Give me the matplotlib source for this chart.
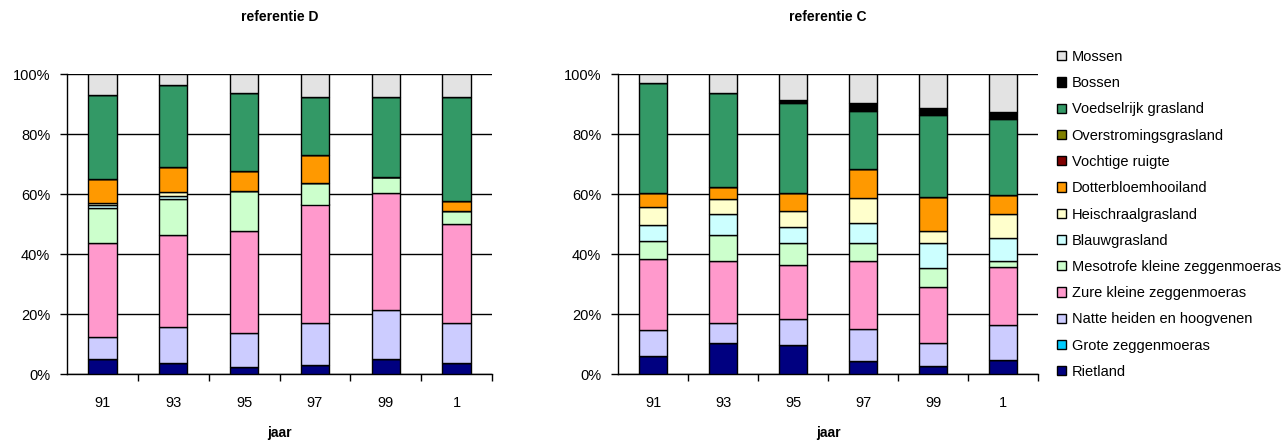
import matplotlib
matplotlib.use("Agg")
import matplotlib.pyplot as plt
from matplotlib.patches import Rectangle
import numpy as np

plt.rcParams['font.family'] = ['Liberation Sans', 'DejaVu Sans']

# categorieen en jaren
jaren = ["91", "93", "95", "97", "99", "1"]
typen = ["Rietland", "Grote zeggenmoeras", "Natte heiden en hoogvenen",
         "Zure kleine zeggenmoeras", "Mesotrofe kleine zeggenmoeras",
         "Blauwgrasland", "Heischraalgrasland", "Dotterbloemhooiland",
         "Vochtige ruigte", "Overstromingsgrasland", "Voedselrijk grasland",
         "Bossen", "Mossen"]
kleuren = ["#000080", "#00CCFF", "#CCCCFF", "#FF99CC", "#CCFFCC",
           "#CCFFFF", "#FFFFCC", "#FF9900", "#800000", "#808000",
           "#339966", "#000000", "#E3E3E3"]

# aandelen (%) per type, per jaar - referentie D
ref_d = [
    [5.1, 3.7, 2.3, 3.1, 5.1, 3.8],        # Rietland
    [0, 0, 0, 0, 0, 0],                    # Grote zeggenmoeras
    [7.2, 12.0, 11.4, 14.0, 16.1, 13.3],   # Natte heiden
    [31.5, 30.7, 34.0, 39.4, 39.3, 32.8],  # Zure kleine zeggenmoeras
    [11.7, 11.9, 13.4, 7.2, 5.2, 4.5],     # Mesotrofe
    [0.7, 1.0, 0, 0, 0, 0],                # Blauwgrasland
    [0.7, 1.4, 0, 0, 0, 0],                # Heischraalgrasland
    [8.1, 8.3, 6.6, 9.4, 0, 3.3],          # Dotterbloemhooiland
    [0, 0, 0, 0, 0, 0],                    # Vochtige ruigte
    [0, 0, 0, 0, 0, 0],                    # Overstromingsgrasland
    [28.0, 27.3, 26.1, 19.3, 26.7, 34.7],  # Voedselrijk grasland
    [0, 0, 0, 0, 0, 0],                    # Bossen
    [7.0, 3.7, 6.2, 7.6, 7.6, 7.6],        # Mossen
]

# referentie C
ref_c = [
    [5.9, 10.3, 9.8, 4.2, 2.6, 4.6],
    [0, 0, 0, 0, 0, 0],
    [8.7, 6.8, 8.7, 10.9, 7.7, 11.6],
    [23.7, 20.6, 17.8, 22.6, 18.7, 19.5],
    [6.1, 8.8, 7.4, 6.0, 6.2, 1.9],
    [5.4, 6.7, 5.4, 6.7, 8.6, 7.6],
    [5.9, 5.1, 5.2, 8.1, 3.9, 8.0],
    [4.7, 4.0, 6.1, 10.0, 11.4, 6.4],
    [0, 0, 0, 0, 0, 0],
    [0, 0, 0, 0, 0, 0],
    [36.7, 31.5, 30.0, 19.2, 27.2, 25.4],
    [0, 0, 0.9, 2.5, 2.5, 2.4],
    [2.9, 6.2, 8.7, 9.8, 11.2, 12.6],
]


def teken(ax, data, titel):
    x = np.arange(len(jaren))
    onder = np.zeros(len(jaren))
    for waarden, kleur in zip(data, kleuren):
        waarden = np.array(waarden, dtype=float)
        ax.bar(x, waarden, 0.4, bottom=onder, color=kleur,
               edgecolor="black", linewidth=1.0, zorder=3)
        onder += waarden
    ax.set_xlim(-0.5, len(jaren) - 0.5)
    ax.set_ylim(0, 100)
    ax.set_yticks([0, 20, 40, 60, 80, 100])
    ax.set_yticklabels([f"{v}%" for v in range(0, 101, 20)])
    ax.set_xticks(x)
    ax.set_xticklabels(jaren)
    ax.set_xticks(np.arange(len(jaren)) + 0.5, minor=True)
    ax.tick_params(axis="x", which="major", length=0, pad=16, labelsize=10.5)
    ax.tick_params(axis="x", which="minor", length=5, width=1, direction="out")
    ax.tick_params(axis="y", length=5, width=1, pad=7, labelsize=10.5)
    ax.grid(axis="y", color="black", linewidth=1.0, zorder=0)
    ax.spines["top"].set_visible(False)
    ax.spines["right"].set_visible(False)
    ax.spines["left"].set_linewidth(1.0)
    ax.spines["bottom"].set_linewidth(1.0)
    ax.set_title(titel, fontsize=10, fontweight="bold", pad=38)
    ax.set_xlabel("jaar", fontsize=10, fontweight="bold", labelpad=11)


fig = plt.figure(figsize=(12.81, 4.41), dpi=100)
ax1 = fig.add_axes([67 / 1281, 67 / 441, 425 / 1281, 300 / 441])
ax2 = fig.add_axes([618 / 1281, 67 / 441, 420 / 1281, 300 / 441])

teken(ax1, ref_d, "referentie D")
teken(ax2, ref_c, "referentie C")

# legenda, van boven naar beneden
handles = [Rectangle((0, 0), 1, 1, facecolor=k, edgecolor="black", linewidth=1.0)
           for k in kleuren[::-1]]
fig.legend(handles, typen[::-1], loc="upper left",
           bbox_to_anchor=(1057 / 1281, 1 - 50 / 441), frameon=False,
           fontsize=10.5, handlelength=0.6, handleheight=0.6,
           handletextpad=0.4, labelspacing=0.84, borderpad=0, borderaxespad=0)

fig.savefig("out.png", dpi=100)
